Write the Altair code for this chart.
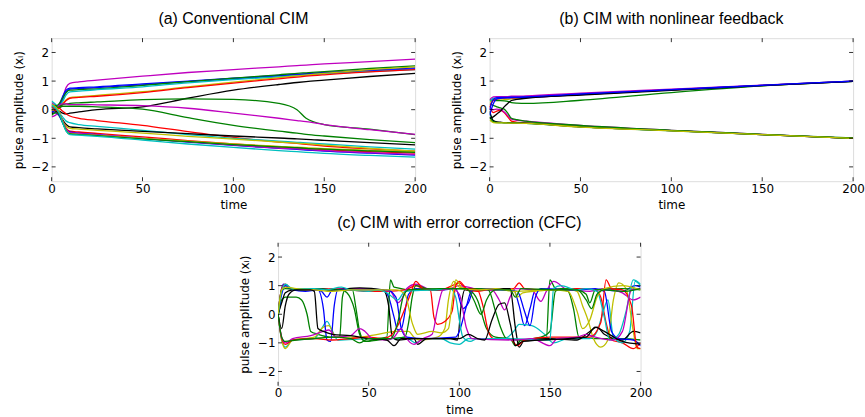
import altair as alt
import pandas as pd

# ---------------- Panel (a): conventional CIM ----------------
TA = [0, 2, 4, 6, 8, 10, 15, 25, 50, 75, 100, 125, 135, 140, 150, 175, 200]
a_mag1 = [0.25, 0.15, 0.1, 0.4, 0.78, 0.92, 0.97, 1.03, 1.17, 1.3, 1.4, 1.5, 1.54, 1.56, 1.6, 1.68, 1.77]
a_blue1 = [0.1, 0.05, 0.15, 0.45, 0.68, 0.75, 0.77, 0.8, 0.9, 1.0, 1.1, 1.2, 1.24, 1.26, 1.3, 1.38, 1.46]
a_blue2 = [0.2, 0.12, 0.08, 0.35, 0.62, 0.72, 0.74, 0.77, 0.87, 0.98, 1.08, 1.18, 1.22, 1.24, 1.28, 1.36, 1.43]
a_grn1 = [0.0, 0.1, 0.2, 0.4, 0.6, 0.68, 0.7, 0.73, 0.85, 0.98, 1.1, 1.22, 1.27, 1.29, 1.33, 1.44, 1.53]
a_cyan1 = [0.3, 0.2, 0.1, 0.28, 0.52, 0.62, 0.65, 0.7, 0.8, 0.94, 1.05, 1.15, 1.19, 1.21, 1.25, 1.33, 1.4]
a_yel1 = [-0.05, 0.0, 0.1, 0.22, 0.35, 0.42, 0.45, 0.5, 0.63, 0.8, 0.96, 1.12, 1.18, 1.21, 1.27, 1.4, 1.5]
a_red1 = [0.15, 0.1, 0.05, 0.18, 0.32, 0.4, 0.43, 0.47, 0.6, 0.77, 0.93, 1.08, 1.14, 1.17, 1.22, 1.32, 1.4]
a_blk1 = [-0.15, -0.1, -0.05, -0.12, -0.15, -0.12, -0.08, 0.0, 0.1, 0.4, 0.68, 0.88, 0.95, 0.98, 1.03, 1.16, 1.27]
a_grn2 = [0.1, 0.15, 0.12, 0.18, 0.2, 0.22, 0.24, 0.27, 0.35, 0.38, 0.36, 0.22, 0.0, -0.3, -0.52, -0.68, -0.87]
a_mag2 = [-0.1, 0.0, 0.15, 0.2, 0.2, 0.18, 0.18, 0.17, 0.14, 0.05, -0.12, -0.3, -0.38, -0.42, -0.52, -0.7, -0.86]
a_grn3 = [0.05, 0.1, 0.08, 0.12, 0.12, 0.12, 0.12, 0.1, 0.02, -0.28, -0.55, -0.75, -0.82, -0.86, -0.92, -1.05, -1.15]
a_red2 = [0.0, -0.05, 0.05, -0.05, -0.15, -0.22, -0.3, -0.38, -0.55, -0.77, -0.97, -1.13, -1.18, -1.21, -1.27, -1.37, -1.45]
a_cyan2 = [0.05, 0.0, -0.1, -0.25, -0.4, -0.45, -0.52, -0.58, -0.72, -0.87, -1.0, -1.1, -1.14, -1.16, -1.2, -1.3, -1.38]
a_blk2 = [-0.1, -0.05, -0.15, -0.35, -0.52, -0.6, -0.63, -0.67, -0.76, -0.84, -0.92, -0.99, -1.02, -1.04, -1.07, -1.15, -1.23]
a_yel2 = [0.0, -0.1, -0.2, -0.4, -0.58, -0.65, -0.68, -0.72, -0.82, -0.93, -1.03, -1.13, -1.17, -1.19, -1.24, -1.35, -1.45]
a_red3 = [0.1, 0.0, -0.1, -0.4, -0.65, -0.75, -0.78, -0.83, -0.95, -1.08, -1.2, -1.3, -1.34, -1.36, -1.4, -1.47, -1.52]
a_blue3 = [-0.05, -0.1, -0.2, -0.45, -0.7, -0.78, -0.82, -0.87, -1.0, -1.13, -1.25, -1.35, -1.39, -1.41, -1.45, -1.52, -1.59]
a_mag3 = [-0.25, -0.2, -0.1, -0.4, -0.68, -0.8, -0.83, -0.88, -1.0, -1.12, -1.24, -1.34, -1.37, -1.39, -1.43, -1.5, -1.56]
a_yel3 = [0.2, 0.1, -0.05, -0.4, -0.72, -0.84, -0.86, -0.9, -1.0, -1.1, -1.2, -1.28, -1.31, -1.33, -1.36, -1.42, -1.47]
a_grn4 = [-0.2, -0.1, -0.15, -0.45, -0.74, -0.85, -0.87, -0.91, -1.02, -1.12, -1.22, -1.3, -1.33, -1.35, -1.38, -1.44, -1.49]
a_cyan3 = [0.15, 0.05, -0.1, -0.45, -0.75, -0.87, -0.89, -0.93, -1.06, -1.2, -1.32, -1.43, -1.47, -1.49, -1.53, -1.6, -1.66]

# ---------------- Panel (b): nonlinear feedback ----------------
TB = [0, 2, 4, 6, 8, 10, 12, 15, 20, 50, 100, 150, 200]
b_mag1 = [0.35, 0.45, 0.46, 0.46, 0.46, 0.46, 0.47, 0.47, 0.48, 0.58, 0.72, 0.86, 1.0]
b_blue1 = [0.0, 0.35, 0.42, 0.43, 0.43, 0.43, 0.44, 0.44, 0.45, 0.55, 0.7, 0.85, 1.0]
b_blue2 = [-0.2, 0.2, 0.38, 0.4, 0.41, 0.41, 0.42, 0.42, 0.43, 0.53, 0.69, 0.85, 0.99]
b_cyan1 = [0.3, 0.4, 0.41, 0.41, 0.42, 0.42, 0.43, 0.43, 0.44, 0.54, 0.7, 0.85, 1.0]
b_red1 = [0.1, 0.32, 0.38, 0.4, 0.4, 0.41, 0.41, 0.42, 0.43, 0.54, 0.69, 0.85, 1.0]
b_yel1 = [0.25, 0.33, 0.34, 0.34, 0.35, 0.36, 0.38, 0.4, 0.42, 0.53, 0.69, 0.84, 0.99]
b_grn1 = [0.35, 0.33, 0.32, 0.32, 0.31, 0.29, 0.25, 0.23, 0.22, 0.33, 0.6, 0.83, 0.99]
b_blk1 = [-0.3, -0.25, -0.15, -0.05, 0.1, 0.22, 0.32, 0.36, 0.4, 0.51, 0.68, 0.84, 0.99]
b_red2 = [0.12, -0.1, -0.05, -0.02, -0.1, -0.25, -0.4, -0.44, -0.46, -0.6, -0.73, -0.87, -1.0]
b_mag2 = [0.05, 0.0, 0.02, 0.0, -0.08, -0.2, -0.33, -0.37, -0.4, -0.55, -0.72, -0.86, -1.0]
b_grn2 = [0.2, 0.15, 0.1, 0.06, 0.02, -0.12, -0.3, -0.35, -0.4, -0.55, -0.72, -0.86, -1.0]
b_yel2 = [-0.35, -0.45, -0.46, -0.46, -0.46, -0.47, -0.47, -0.47, -0.48, -0.61, -0.74, -0.87, -1.0]
b_grn3 = [-0.25, -0.42, -0.45, -0.45, -0.46, -0.46, -0.47, -0.47, -0.48, -0.6, -0.73, -0.87, -0.99]
b_cyan2 = [-0.1, -0.4, -0.44, -0.45, -0.45, -0.46, -0.46, -0.47, -0.48, -0.6, -0.74, -0.87, -1.0]
b_blk2 = [-0.05, -0.38, -0.43, -0.44, -0.45, -0.45, -0.46, -0.46, -0.47, -0.6, -0.73, -0.87, -1.0]

# ---------------- Panel (c): error correction (CFC) ----------------
c_blue1 = [(0, 0), (2, 0.9), (3, 1.05), (6, 0.9), (20, 0.88), (24, 0.8), (27, 0.6), (30, 0.85), (40, 0.9),
           (58, 0.85), (61, 0.6), (64, -0.1), (66, -0.55), (68, -0.5), (72, 0.7), (76, 0.9), (90, 0.85), (98, 0.9),
           (102, 0.2), (105, 0.4), (108, 0.85), (130, 0.85), (133, 0.3), (136, -0.4), (139, 0.2), (142, 0.85),
           (160, 0.88), (180, 0.85), (190, 0.8), (197, 1.0), (200, 0.95)]
c_grn1 = [(0, -0.1), (2, 0.5), (4, 0.6), (10, 0.6), (13, 0.5), (16, 0.0), (18, -0.6), (22, -0.7), (30, -0.8),
          (34, -0.8), (35.5, 0.6), (37, 0.85), (41, 0.85), (43, 0.2), (45, -0.6), (48, -0.95), (55, -0.85),
          (60, -0.8), (62, 1.2), (64, 0.95), (75, 0.85), (85, 0.85), (100, 0.9), (105, 0.85), (110, 0.5),
          (115, -0.5), (120, -0.8), (128, -0.85), (131, -1.1), (134, -0.9), (148, -0.85), (150, 1.2), (153, 0.9),
          (160, 0.8), (163, 0.2), (166, -0.8), (175, -0.85), (190, -0.85), (200, -0.9)]
c_red1 = [(0, 0), (2, 0.9), (4, 1.05), (8, 0.85), (20, 0.85), (30, 0.9), (40, 0.85), (50, 0.8), (60, 0.8),
          (70, 0.85), (76, 1.0), (80, 0.9), (90, 0.85), (96, 1.0), (100, 1.1), (104, 0.85), (110, 0.8),
          (115, 0.85), (130, 0.9), (133, 1.1), (136, 0.9), (150, 0.85), (165, 0.9), (175, 0.85), (178, 0.6),
          (181, -0.3), (184, -0.9), (190, -1.0), (196, -1.2), (200, -1.0)]
c_cyan1 = [(0, 0), (2, -0.9), (4, -1.15), (8, -0.9), (20, -0.85), (24, -0.5), (27, -0.25), (30, -0.6),
           (33, -0.9), (50, -0.85), (65, -0.85), (70, -0.8), (76, -1.0), (80, -0.85), (90, -0.85), (95, -1.0),
           (100, -1.05), (105, -0.85), (125, -0.85), (130, -0.6), (133, -0.35), (140, -0.4), (147, -0.7),
           (152, -1.0), (160, -0.85), (172, -0.85), (176, -0.6), (179, 0.0), (182, 0.5), (185, -0.8),
           (190, -1.0), (194, -0.6), (197, 1.15), (200, 1.0)]
c_mag1 = [(0, 0), (2, 0.85), (4, 1.0), (8, 0.88), (20, 0.9), (30, 0.85), (40, 0.9), (55, 0.85), (62, 0.8),
          (66, 0.4), (68, 0.5), (71, 0.9), (76, 1.05), (85, 0.85), (95, 0.9), (100, 1.0), (108, 0.9),
          (118, 0.85), (122, 0.5), (125, 0.15), (128, 0.6), (131, 0.9), (140, 0.85), (145, 0.45), (148, 0.8),
          (152, 1.15), (160, 0.85), (172, 0.8), (180, 0.9), (190, 0.75), (196, 0.5), (200, 0.6)]
c_yel1 = [(0, 0), (2, -0.9), (4, -1.2), (8, -0.9), (20, -0.8), (25, -0.45), (28, -0.4), (32, -0.8),
          (45, -0.8), (55, -0.7), (65, -0.6), (72, -0.6), (75, -0.8), (78, -0.9), (88, -0.8), (92, -0.5),
          (94, 0.5), (97, 1.15), (100, 0.95), (110, 0.85), (120, 0.9), (130, 0.85), (132, 0.6), (135, 0.75),
          (150, 0.85), (160, 0.9), (165, 0.8), (168, 0.3), (171, -0.2), (174, -0.85), (178, -1.15),
          (182, -0.9), (185, 0.5), (188, 1.1), (192, 0.9), (196, -0.6), (198, -1.2), (200, -1.2)]
c_blk1 = [(0, 0), (2, 0.4), (4, 0.75), (8, 0.85), (20, 0.9), (30, 0.85), (45, 0.92), (58, 0.85), (61, 0.3),
          (63, -0.8), (66, -0.9), (75, -0.85), (77, -1.05), (82, -0.85), (95, -0.85), (99, -0.9), (101, 0.3),
          (103, 0.85), (110, 0.85), (120, 0.9), (128, 0.9), (131, -0.5), (133, -1.15), (136, -0.9),
          (150, -0.85), (165, -0.9), (172, -0.6), (176, -0.45), (180, -0.7), (190, -0.9), (196, -0.6),
          (200, -0.65)]
c_blue2 = [(0, 0), (2, 0.7), (4, 1.0), (8, 0.85), (15, 0.8), (22, 0.85), (25, 0.2), (27, -0.9), (29, -0.95),
           (31, 0.3), (33, 0.85), (45, 0.85), (60, 0.85), (65, 0.6), (68, -0.5), (71, -0.8), (80, -0.85),
           (98, -0.8), (100, -0.6), (104, 0.3), (107, 0.85), (118, 0.9), (125, 0.85), (132, 0.8), (136, 0.1),
           (139, -0.4), (142, 0.6), (145, 0.9), (165, 0.85), (175, 0.9), (180, 0.8), (184, -0.6), (188, -0.85),
           (196, -0.9), (200, -1.1)]
c_grn2 = [(0, 0), (2, 0.85), (4, 0.9), (15, 0.85), (20, 0.9), (30, 0.85), (35, 0.85), (38, 0.75), (42, 0.2),
          (45, -0.7), (48, -0.95), (55, -0.9), (62, -0.85), (70, -0.8), (72, -0.3), (74, 0.6), (76, 1.0),
          (85, 0.85), (95, 0.9), (110, 0.9), (116, 0.85), (120, 0.1), (123, -0.5), (126, -0.85), (133, -0.9),
          (145, -0.8), (150, -0.6), (153, 0.8), (156, 0.9), (165, 0.85), (170, 0.7), (172, 0.4), (175, 0.85),
          (190, 0.9), (200, 0.85)]
c_red2 = [(0, 0), (2, -0.85), (4, -1.05), (8, -0.9), (20, -0.85), (30, -0.9), (40, -0.85), (50, -0.8),
          (58, -0.85), (62, -0.75), (66, -0.4), (70, 0.2), (73, 0.7), (76, 1.15), (80, 0.9), (84, 0.85),
          (86, -0.1), (88, -0.35), (92, -0.25), (96, 0.1), (98, 1.0), (100, 1.15), (104, 0.9), (110, 0.85),
          (113, 0.3), (116, -0.6), (119, -0.85), (128, -0.85), (132, -1.1), (136, -0.9), (150, -0.8),
          (172, -0.8), (178, -0.3), (181, 1.2), (184, 0.9), (190, 0.85), (195, 0.3), (198, -1.15), (200, -1.2)]
c_cyan2 = [(0, 0), (2, 0.8), (4, 1.05), (8, 0.9), (20, 0.9), (26, 0.85), (35, 0.95), (40, 0.85), (50, 0.8),
           (55, 0.85), (60, 0.75), (66, 0.5), (70, 0.8), (85, 0.85), (95, 0.9), (98, 0.6), (100, -0.2),
           (102, -0.8), (106, -0.95), (110, -0.85), (128, -0.85), (150, -0.9), (152, 0.9), (156, 1.0),
           (165, 0.85), (170, 0.9), (176, 0.8), (180, -0.1), (183, -0.9), (188, -0.7), (192, 0.1), (196, 1.2),
           (200, 1.05)]
c_mag2 = [(0, 0), (2, -0.8), (4, -1.0), (8, -0.85), (18, -0.75), (25, -0.6), (28, -0.55), (32, -0.8),
          (40, -0.75), (45, -0.5), (48, -0.6), (52, -0.85), (60, -0.9), (64, -0.8), (68, -0.5), (70, -0.75),
          (75, -1.05), (80, -0.85), (85, -0.7), (88, 0.2), (91, 0.85), (96, 0.9), (100, 0.7), (104, -0.5),
          (107, -0.85), (130, -0.9), (140, -0.85), (150, -1.1), (154, -0.85), (165, -0.8), (170, -0.7),
          (175, -0.8), (185, -0.9), (190, -0.6), (195, 0.85), (200, 0.9)]
c_yel2 = [(0, 0), (2, 0.85), (4, 0.95), (10, 0.9), (20, 0.85), (30, 0.8), (40, 0.85), (65, 0.85), (70, 0.7),
          (74, -0.3), (77, -0.7), (85, -0.6), (90, -0.65), (94, -0.5), (96, 0.4), (98, 1.2), (102, 0.9),
          (110, 0.85), (120, 0.9), (130, 0.8), (150, 0.85), (160, 0.8), (165, 0.1), (168, -0.5), (172, -0.2),
          (176, 0.6), (180, 0.9), (190, 1.0), (200, 0.85)]
c_blk2 = [(0, 0), (2, -0.5), (4, 0.3), (6, 0.7), (10, 0.85), (18, 0.85), (20, 0.8), (22, -0.5), (25, -0.6),
          (30, -0.7), (40, -0.75), (50, -0.85), (60, -0.9), (64, -1.1), (68, -0.85), (100, -0.85), (105, -0.7),
          (110, -0.85), (114, -0.9), (118, -0.2), (122, 0.35), (125, 0.4), (128, -0.3), (131, -1.1),
          (135, -0.95), (160, -0.85), (170, -0.8), (175, -0.45), (180, -0.6), (190, -0.95), (200, -1.05)]
c_grn3 = [(0, 0), (2, -0.8), (4, -0.95), (10, -0.9), (20, -0.85), (30, -0.8), (40, -0.85), (45, -1.0),
          (50, -0.85), (62, -0.85), (66, -0.3), (69, 0.6), (72, 0.85), (90, 0.9), (104, 0.9), (108, 0.5),
          (112, 0.0), (115, 0.5), (120, 0.85), (128, 0.85), (131, 0.6), (134, 0.9), (155, 0.85), (165, 0.85),
          (170, 0.5), (173, 0.2), (176, 0.7), (180, 0.85), (190, 0.8), (200, 0.9)]

BLUE, GREEN, RED, CYAN, MAG, YEL, BLK = "#0000ff", "#008000", "#ff0000", "#00bfbf", "#bf00bf", "#bfbf00", "#000000"

A_SERIES = [(MAG, a_mag1), (BLUE, a_blue1), (BLUE, a_blue2), (GREEN, a_grn1), (CYAN, a_cyan1), (YEL, a_yel1),
            (RED, a_red1), (BLK, a_blk1), (GREEN, a_grn2), (MAG, a_mag2), (GREEN, a_grn3), (RED, a_red2),
            (CYAN, a_cyan2), (BLK, a_blk2), (YEL, a_yel2), (RED, a_red3), (BLUE, a_blue3), (MAG, a_mag3),
            (YEL, a_yel3), (GREEN, a_grn4), (CYAN, a_cyan3)]
B_SERIES = [(RED, b_red2), (MAG, b_mag2), (CYAN, b_cyan2), (BLK, b_blk2), (GREEN, b_grn2), (GREEN, b_grn3),
            (YEL, b_yel2), (YEL, b_yel1), (GREEN, b_grn1), (RED, b_red1), (CYAN, b_cyan1), (MAG, b_mag1),
            (BLUE, b_blue2), (BLK, b_blk1), (BLUE, b_blue1)]
C_SERIES = [(BLUE, c_blue1), (GREEN, c_grn1), (RED, c_red1), (CYAN, c_cyan1), (MAG, c_mag1), (YEL, c_yel1),
            (BLK, c_blk1), (BLUE, c_blue2), (GREEN, c_grn2), (RED, c_red2), (CYAN, c_cyan2), (MAG, c_mag2),
            (YEL, c_yel2), (BLK, c_blk2), (GREEN, c_grn3)]

X_TICKS = [0, 50, 100, 150, 200]
Y_TICKS = [-2, -1, 0, 1, 2]


def grid_frame(times, series):
    rows = []
    for sid, (col, vals) in enumerate(series):
        for t, v in zip(times, vals):
            rows.append({"s": f"{sid:02d}", "t": t, "v": v, "c": col})
    return pd.DataFrame(rows)


def pair_frame(series):
    rows = []
    for sid, (col, pts) in enumerate(series):
        for t, v in pts:
            rows.append({"s": f"{sid:02d}", "t": t, "v": v, "c": col})
    return pd.DataFrame(rows)


W, H = 366, 144
AX_FONT = "DejaVu Sans"
FS = 12

X_AXIS = alt.Axis(values=X_TICKS, title="time", grid=False, ticks=False, domain=False,
                  labelFlush=False, labelOverlap=False, labelPadding=2, titlePadding=6,
                  labelFont=AX_FONT, titleFont=AX_FONT, labelFontSize=FS, titleFontSize=FS,
                  titleFontWeight="normal", labelColor="black", titleColor="black")
Y_AXIS = alt.Axis(values=Y_TICKS, title="pulse amplitude (xᵢ)", grid=False, ticks=False,
                  domain=False, labelFlush=False, labelOverlap=False, labelPadding=3,
                  titlePadding=6, labelFont=AX_FONT, titleFont=AX_FONT, labelFontSize=FS,
                  titleFontSize=FS, titleFontWeight="normal", labelColor="black",
                  titleColor="black")
X_SCALE = alt.Scale(domain=[0, 200], nice=False, zero=False)
Y_SCALE = alt.Scale(domain=[-2.5, 2.5], nice=False, zero=False)


def panel(df, title, w=W, h=H):
    x = alt.X("t:Q", scale=X_SCALE, axis=X_AXIS)
    y = alt.Y("v:Q", scale=Y_SCALE, axis=Y_AXIS)
    lines = alt.Chart(df).mark_line(interpolate="monotone", strokeWidth=1.3, clip=True).encode(
        x=x, y=y, color=alt.Color("c:N", scale=None), detail="s:N")
    xt = pd.DataFrame({"t": X_TICKS})
    yt = pd.DataFrame({"v": Y_TICKS})
    bot = alt.Chart(xt).mark_rule(color="black", strokeWidth=0.8).encode(
        x=x, y=alt.value(h), y2=alt.value(h - 4))
    top = alt.Chart(xt).mark_rule(color="black", strokeWidth=0.8).encode(
        x=x, y=alt.value(0), y2=alt.value(4))
    lef = alt.Chart(yt).mark_rule(color="black", strokeWidth=0.8).encode(
        y=y, x=alt.value(0), x2=alt.value(4))
    rig = alt.Chart(yt).mark_rule(color="black", strokeWidth=0.8).encode(
        y=y, x=alt.value(w - 4), x2=alt.value(w))
    return alt.layer(lines, bot, top, lef, rig).properties(
        width=w, height=h,
        title=alt.TitleParams(title, font="Liberation Sans", fontSize=16, fontWeight="normal",
                              color="black", frame="group", anchor="middle", offset=11))


pa = panel(grid_frame(TA, A_SERIES), "(a) Conventional CIM")
pb = panel(grid_frame(TB, B_SERIES), "(b) CIM with nonlinear feedback")
pc = panel(pair_frame(C_SERIES), "(c) CIM with error correction (CFC)", w=365)

# invisible spacer that pushes panel (c) to the middle of the figure
spacer = alt.Chart(pd.DataFrame({"t": [0]})).mark_rule(strokeOpacity=0).encode(
    x=alt.value(0), y=alt.value(0), y2=alt.value(1)
).properties(width=187, height=1, view=alt.ViewBackground(strokeOpacity=0))

top_row = alt.hconcat(pa, pb, spacing=22)
bottom_row = alt.hconcat(spacer, pc, spacing=0)

chart = alt.vconcat(top_row, bottom_row, spacing=3).properties(
    padding={"left": 11, "top": 9, "right": 0, "bottom": -2}
).configure_view(stroke="black", strokeWidth=1).configure(background="white")

chart.save("out.html", embed_options={"renderer": "svg", "actions": False})
